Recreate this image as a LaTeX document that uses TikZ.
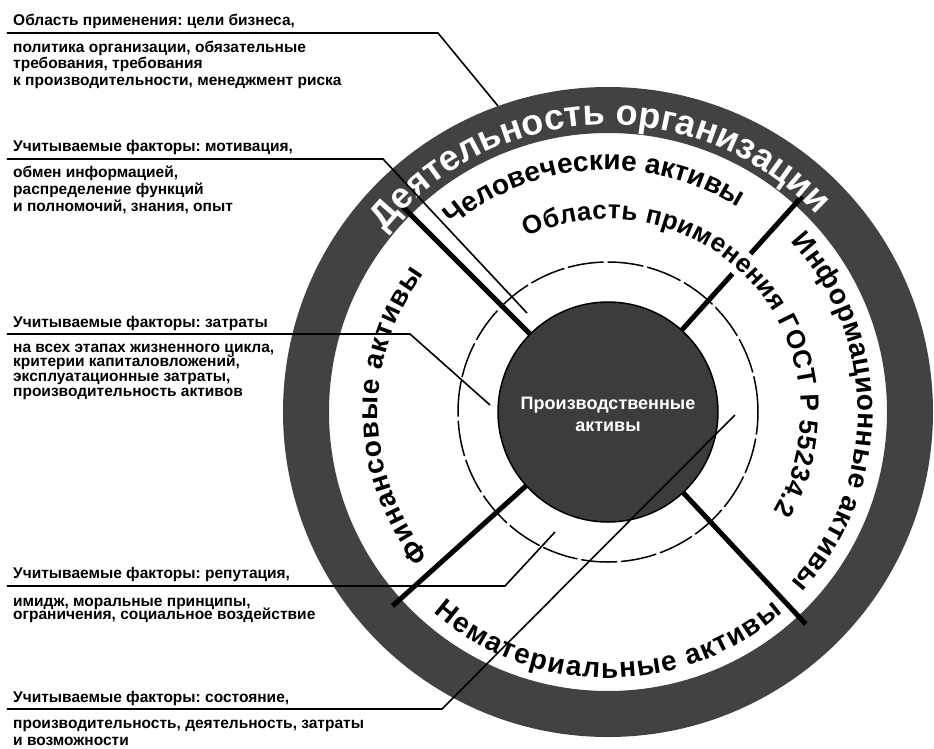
\documentclass[tikz,border=0pt]{standalone}
\usepackage{fontspec}
\setmainfont{Liberation Sans}
\usetikzlibrary{decorations.text}
\definecolor{ringgray}{RGB}{66,66,66}
\definecolor{diskgray}{RGB}{60,60,60}
\frenchspacing

\begin{document}
\begin{tikzpicture}[x=1pt,y=1pt,
  lbl/.style={anchor=base west,inner sep=0pt,font=\bfseries\fontsize{15.5}{17}\selectfont},
  leader/.style={line width=1.6pt},
  divider/.style={line width=5pt},
  ringtext/.style 2 args={decorate,decoration={text along path,text align=fit to path,
    text={|\bfseries\fontsize{#1}{#1}\selectfont|#2}}}]
\useasboundingbox (-608,-336) rectangle (326,412);
\fill[ringgray,even odd rule] (0,0) circle[radius=325] (0,0) circle[radius=279];
\draw[line width=1.5pt,dash pattern=on 36pt off 4pt] (0,0) circle[radius=150];
\filldraw[fill=diskgray,draw=black,line width=1.5pt] (0,0) circle[radius=110];
\foreach \a in {135,222,313}
{
    \draw[divider] (\a:110)--(\a:290);
}
\draw[divider] (48:110)--(48:186);
\draw[divider] (48:213)--(48:290);
\path[ringtext={36}{Деятельность организации},decoration={text color=white}]
  (141:287) arc[start angle=141,end angle=44,radius=287];
\path[ringtext={28}{Человеческие активы}] (130:242) arc[start angle=130,end angle=60,radius=242];
\path[ringtext={28}{Информационные активы}] (43:250) arc[start angle=43,end angle=-43,radius=250];
\path[ringtext={28}{Нематериальные активы}] (229:266) arc[start angle=229,end angle=311,radius=266];
\path[ringtext={28}{Финансовые активы}] (219:230) arc[start angle=219,end angle=143,radius=230];
\path[ringtext={26}{Область применения ГОСТ Р 55234.2}] (115:193) arc[start angle=115,end angle=-31,radius=193];
\node[font=\bfseries\fontsize{18}{20}\selectfont,text=white,align=center,inner sep=0pt] (core) at (0,-2)
  {Производственные\\[2pt]активы};
\foreach \n/\ys/\xk/\xe/\ye in {1/379/-170/-110/306,2/253/-225/-81/99,3/78/-198/-118/7,4/-174/-103/-53/-120,5/-297/-166/127/-3}
{
    \coordinate (s\n) at (-601,\ys);
    \coordinate (k\n) at (\xk,\ys);
    \coordinate (e\n) at (\xe,\ye);
    \draw[leader] (s\n)--(k\n)--(e\n);
}
\foreach \y/\txt [count=\i] in {387/{Область применения: цели бизнеса,},360/{политика организации, обязательные},
  344/{требования, требования},327/{к производительности, менеджмент риска}}
{
    \node[lbl] (a\i) at (-595,\y){\txt};
}
\foreach \y/\txt [count=\i] in {261/{Учитываемые факторы: мотивация,},235/{обмен информацией,},
  218/{распределение функций},201/{и полномочий, знания, опыт}}
{
    \node[lbl] (b\i) at (-595,\y){\txt};
}
\foreach \y/\txt [count=\i] in {85/{Учитываемые факторы: затраты},60/{на всех этапах жизненного цикла,},
  46/{критерии капиталовложений,},31/{эксплуатационные затраты,},16/{производительность активов}}
{
    \node[lbl] (c\i) at (-595,\y){\txt};
}
\foreach \y/\txt [count=\i] in {-166/{Учитываемые факторы: репутация,},-194/{имидж, моральные принципы,},
  -207/{ограничения, социальное воздействие}}
{
    \node[lbl] (d\i) at (-595,\y){\txt};
}
\foreach \y/\txt [count=\i] in {-290/{Учитываемые факторы: состояние,},-316/{производительность, деятельность, затраты},
  -333/{и возможности}}
{
    \node[lbl] (f\i) at (-595,\y){\txt};
}
\end{tikzpicture}
\end{document}
